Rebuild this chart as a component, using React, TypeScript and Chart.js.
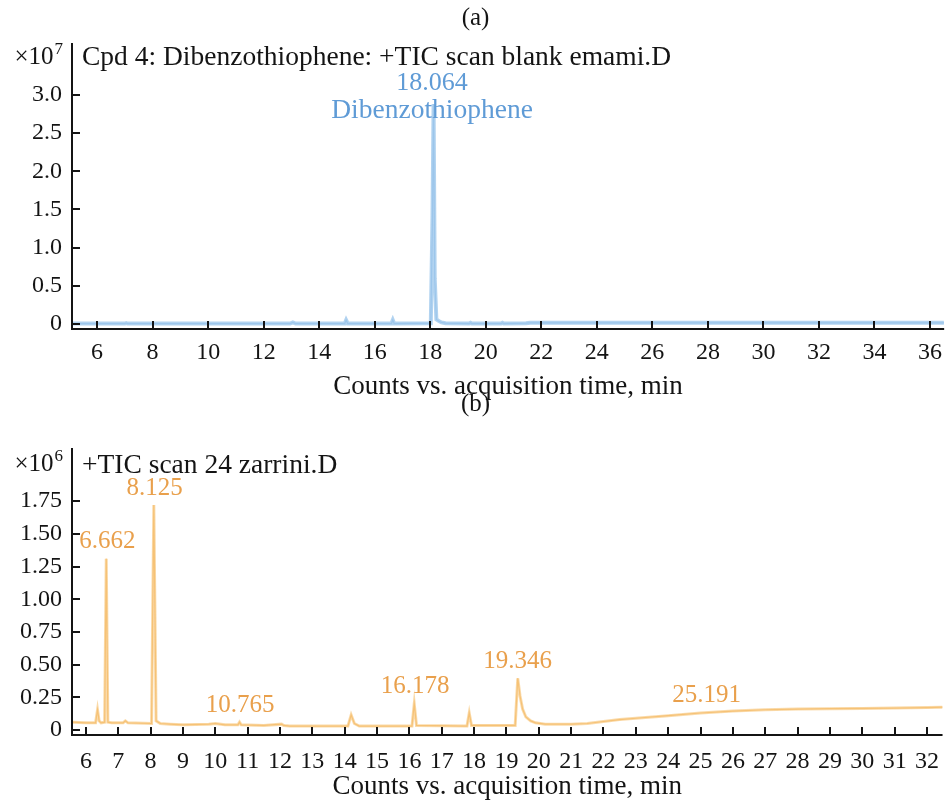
import React, { useEffect, useRef } from 'react';
import { Chart, registerables } from 'chart.js';

Chart.register(...registerables);

const FONT = '"Liberation Serif", "Times New Roman", Times, serif';
const INK = '#141414';

// ---------- Panel (a): Cpd 4 Dibenzothiophene, counts x10^7 ----------
const timeA = [
  5.1, 6.0, 7.0, 7.05, 7.1,
  12.95, 13.05, 13.15,
  14.92, 14.97, 15.03,
  16.6, 16.65, 16.7,
  18.02, 18.08, 18.12, 18.16, 18.22, 18.3, 18.4, 18.55,
  19.4, 19.45, 19.5,
  20.55, 20.6, 20.65,
  21.45, 21.6,
  24, 30, 36.5,
];
const countsA = [
  0.005, 0.005, 0.005, 0.012, 0.005,
  0.005, 0.02, 0.005,
  0.005, 0.05, 0.005,
  0.005, 0.05, 0.005,
  0.01, 1.4, 2.88, 0.6, 0.06, 0.04, 0.02, 0.01,
  0.005, 0.015, 0.005,
  0.005, 0.015, 0.005,
  0.01, 0.015,
  0.015, 0.015, 0.015,
];
const xTicksA = [6, 8, 10, 12, 14, 16, 18, 20, 22, 24, 26, 28, 30, 32, 34, 36];
const yTicksA = [0, 0.5, 1.0, 1.5, 2.0, 2.5, 3.0];
const peakTimesA = [18.064];
const peakLabelsA = ['18.064'];
const peakNamesA = ['Dibenzothiophene'];

// ---------- Panel (b): +TIC scan 24 zarrini, counts x10^6 ----------
const timeB = [
  5.6, 6.0, 6.3, 6.36, 6.41, 6.47,
  6.58, 6.63, 6.68, 6.8,
  7.15, 7.22, 7.3,
  8.03, 8.1, 8.17, 8.3, 8.6,
  9.0, 9.8, 10.0, 10.3,
  10.7, 10.75, 10.8,
  11.5, 12.05, 12.12, 12.3, 13.0,
  14.1, 14.2, 14.3, 14.45,
  16.08, 16.15, 16.22,
  17.78, 17.85, 17.92,
  19.27, 19.35, 19.42, 19.5, 19.6, 19.75, 19.9,
  20.2, 21.0, 21.5, 22.0, 22.5, 23.0,
  24, 25, 26, 27, 28, 29, 30, 31, 32,
  32.48,
];
const countsB = [
  0.06, 0.055, 0.055, 0.155, 0.07, 0.055,
  0.06, 1.31, 0.06, 0.055,
  0.055, 0.07, 0.055,
  0.05, 1.72, 0.07, 0.05, 0.045,
  0.04, 0.045, 0.05, 0.04,
  0.04, 0.06, 0.04,
  0.035, 0.045, 0.035, 0.03, 0.03,
  0.03, 0.115, 0.05, 0.03,
  0.03, 0.2, 0.035,
  0.03, 0.13, 0.035,
  0.035, 0.395, 0.26, 0.16, 0.1, 0.07, 0.055,
  0.045, 0.045, 0.05, 0.065, 0.08, 0.09,
  0.11, 0.13, 0.145, 0.155, 0.16, 0.163, 0.165, 0.168, 0.172,
  0.175,
];
const xTicksB = [6, 7, 8, 9, 10, 11, 12, 13, 14, 15, 16, 17, 18, 19, 20, 21, 22, 23, 24, 25, 26, 27, 28, 29, 30, 31, 32];
const yTicksB = [0, 0.25, 0.5, 0.75, 1.0, 1.25, 1.5, 1.75];
const peakTimesB = [6.662, 8.125, 10.765, 16.178, 19.346, 25.191];
const peakLabelsB = ['6.662', '8.125', '10.765', '16.178', '19.346', '25.191'];

const AXIS_TITLE = 'Counts vs. acquisition time, min';

function valueNear(times: number[], counts: number[], t: number): number {
  let best = -Infinity;
  for (let i = 0; i < times.length; i++) {
    if (Math.abs(times[i] - t) <= 0.12) best = Math.max(best, counts[i]);
    if (i > 0 && times[i - 1] <= t && times[i] >= t) {
      const f = (t - times[i - 1]) / (times[i] - times[i - 1] || 1);
      best = Math.max(best, counts[i - 1] + f * (counts[i] - counts[i - 1]));
    }
  }
  return best;
}

type Panel = {
  times: number[];
  counts: number[];
  xTicks: number[];
  yTicks: number[];
  decimals: number;
  xMin: number;
  xMax: number;
  yMin: number;
  yMax: number;
  top: number;
  xHeight: number;
  xPad: number;
  band: string;
  bandWidth: number;
  line: string;
  labelColor: string;
  panelText: string;
  panelY: number;
  exp: string;
  mulY: number;
  expY: number;
  header: string;
  headerY: number;
  peakTimes: number[];
  peakLabels: string[];
  peakNames?: string[];
  labelOffset: number;
  nameOffset?: number;
  labelSize: number;
};

function decorPlugin(p: Panel) {
  return {
    id: 'decor',
    afterDraw(chart: any) {
      const { ctx, chartArea } = chart;
      const xs = chart.scales.x;
      const ys = chart.scales.y;
      ctx.save();
      ctx.strokeStyle = INK;
      ctx.lineWidth = 2;
      ctx.beginPath();
      ctx.moveTo(chartArea.left, chartArea.top);
      ctx.lineTo(chartArea.left, chartArea.bottom);
      ctx.lineTo(chartArea.right, chartArea.bottom);
      ctx.stroke();
      for (const v of p.yTicks) {
        const y = Math.round(ys.getPixelForValue(v));
        ctx.beginPath();
        ctx.moveTo(chartArea.left, y);
        ctx.lineTo(chartArea.left + 8, y);
        ctx.stroke();
      }
      for (const v of p.xTicks) {
        const x = Math.round(xs.getPixelForValue(v));
        ctx.beginPath();
        ctx.moveTo(x, chartArea.bottom);
        ctx.lineTo(x, chartArea.bottom - 8);
        ctx.stroke();
      }
      ctx.fillStyle = INK;
      ctx.font = `25px ${FONT}`;
      ctx.textAlign = 'center';
      ctx.textBaseline = 'middle';
      ctx.fillText(p.panelText, chart.width / 2, p.panelY);

      ctx.textBaseline = 'alphabetic';
      ctx.textAlign = 'right';
      ctx.font = `17px ${FONT}`;
      ctx.fillText(p.exp, 63, p.expY);
      const ew = ctx.measureText(p.exp).width;
      ctx.font = `25px ${FONT}`;
      ctx.fillText('\u00d710', 63 - ew - 1, p.mulY);

      ctx.textAlign = 'left';
      ctx.font = `27.5px ${FONT}`;
      ctx.fillText(p.header, 82, p.headerY);

      ctx.fillStyle = p.labelColor;
      ctx.textAlign = 'center';
      ctx.textBaseline = 'middle';
      p.peakTimes.forEach((t, i) => {
        const x = xs.getPixelForValue(t);
        const y = ys.getPixelForValue(valueNear(p.times, p.counts, t));
        ctx.font = `${p.labelSize}px ${FONT}`;
        ctx.fillText(p.peakLabels[i], x, y + p.labelOffset);
        if (p.peakNames && p.peakNames[i]) {
          ctx.font = `27.5px ${FONT}`;
          ctx.fillText(p.peakNames[i], x, y + (p.nameOffset || 0));
        }
      });
      ctx.restore();
    },
  };
}

function buildChart(canvas: HTMLCanvasElement, p: Panel) {
  const points = p.times.map((t, i) => ({ x: t, y: p.counts[i] }));
  return new Chart(canvas, {
    type: 'line',
    data: {
      datasets: [
        { data: points, borderColor: p.band, borderWidth: p.bandWidth, pointRadius: 0, tension: 0, fill: false },
        { data: points, borderColor: p.line, borderWidth: 1.2, pointRadius: 0, tension: 0, fill: false },
      ],
    },
    options: {
      responsive: false,
      animation: false,
      devicePixelRatio: 1,
      events: [],
      layout: { padding: { top: p.top, left: 0, right: 0, bottom: 0 }, autoPadding: false },
      plugins: { legend: { display: false }, tooltip: { enabled: false }, title: { display: false } },
      scales: {
        x: {
          type: 'linear',
          position: 'bottom',
          min: p.xMin,
          max: p.xMax,
          grid: { display: false, drawTicks: false },
          border: { display: false },
          afterBuildTicks: (s: any) => {
            s.ticks = p.xTicks.map((v) => ({ value: v }));
          },
          afterFit: (s: any) => {
            s.height = p.xHeight;
          },
          ticks: {
            autoSkip: false,
            maxRotation: 0,
            minRotation: 0,
            padding: p.xPad,
            color: INK,
            font: { family: FONT, size: 24 },
            callback: (v: any) => String(v),
          },
          title: {
            display: true,
            text: AXIS_TITLE,
            color: INK,
            font: { family: FONT, size: 27, lineHeight: 1.0 },
            padding: { top: 0, bottom: 0 },
          },
        },
        y: {
          type: 'linear',
          min: p.yMin,
          max: p.yMax,
          grid: { display: false, drawTicks: false },
          border: { display: false },
          afterBuildTicks: (s: any) => {
            s.ticks = p.yTicks.map((v) => ({ value: v }));
          },
          afterFit: (s: any) => {
            s.width = 72;
          },
          ticks: {
            padding: 10,
            color: INK,
            font: { family: FONT, size: 24 },
            callback: (v: any) => (v === 0 ? '0' : Number(v).toFixed(p.decimals)),
          },
        },
      },
    } as any,
    plugins: [decorPlugin(p) as any],
  });
}

const panelA: Panel = {
  times: timeA,
  counts: countsA,
  xTicks: xTicksA,
  yTicks: yTicksA,
  decimals: 1,
  xMin: 5.096,
  xMax: 36.51,
  yMin: -0.066,
  yMax: 3.68,
  top: 43,
  xHeight: 71,
  xPad: 9,
  band: 'rgba(165,203,237,0.85)',
  bandWidth: 4,
  line: '#6fa7dc',
  labelColor: '#5f9bd6',
  panelText: '(a)',
  panelY: 18,
  exp: '7',
  mulY: 64,
  expY: 54,
  header: 'Cpd 4: Dibenzothiophene: +TIC scan blank emami.D',
  headerY: 65,
  peakTimes: peakTimesA,
  peakLabels: peakLabelsA,
  peakNames: peakNamesA,
  labelOffset: -21,
  nameOffset: 7,
  labelSize: 26,
};

const panelB: Panel = {
  times: timeB,
  counts: countsB,
  xTicks: xTicksB,
  yTicks: yTicksB,
  decimals: 2,
  xMin: 5.571,
  xMax: 32.48,
  yMin: -0.038,
  yMax: 2.156,
  top: 63,
  xHeight: 65,
  xPad: 12,
  band: 'rgba(248,206,140,0.75)',
  bandWidth: 3,
  line: '#ee9f35',
  labelColor: '#e9a04c',
  panelText: '(b)',
  panelY: 19,
  exp: '6',
  mulY: 86,
  expY: 76,
  header: '+TIC scan 24 zarrini.D',
  headerY: 88,
  peakTimes: peakTimesB,
  peakLabels: peakLabelsB,
  labelOffset: -17,
  labelSize: 25,
};

function ChartCanvas({ panel, top, height }: { panel: Panel; top: number; height: number }) {
  const ref = useRef<HTMLCanvasElement | null>(null);
  useEffect(() => {
    if (!ref.current) return;
    const chart = buildChart(ref.current, panel);
    return () => chart.destroy();
  }, [panel]);
  return (
    <canvas
      ref={ref}
      width={951}
      height={height}
      style={{ position: 'absolute', left: 0, top, width: 951, height }}
    />
  );
}

export default function App() {
  return (
    <div style={{ position: 'absolute', left: 0, top: 0, width: 951, height: 800, background: '#fff' }}>
      <ChartCanvas panel={panelA} top={0} height={400} />
      <ChartCanvas panel={panelB} top={385} height={415} />
    </div>
  );
}
